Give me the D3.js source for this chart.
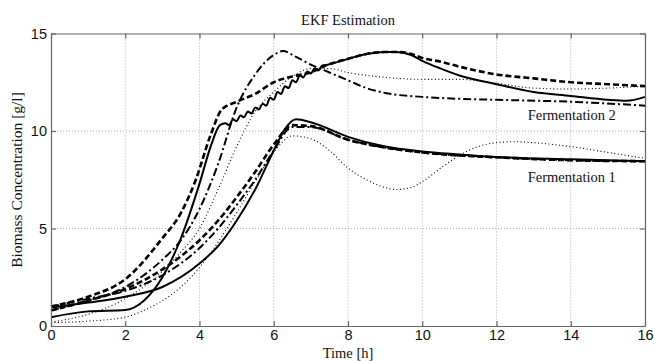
<!DOCTYPE html>
<html>
<head>
<meta charset="utf-8">
<script src="https://cdn.jsdelivr.net/npm/d3@7"></script>
<style>
  body { margin: 0; background: #fff; }
  svg { display: block; }
  .tick text { font-family: "Liberation Sans", Arial, sans-serif; font-size: 14.5px; fill: #111; }
  .lbl { font-family: "Liberation Serif", "DejaVu Serif", serif; font-size: 14.5px; fill: #111; }
</style>
</head>
<body>
<svg width="654" height="361"></svg>
<script>
// axis ticks
var xTicks = [0, 2, 4, 6, 8, 10, 12, 14, 16];
var yTicks = [0, 5, 10, 15];

// Fermentation 1 (lower group)
var f1Solid = [[0,0.95],[1,1.2],[2,1.5],[3,2.0],[4,3.2],[4.5,4.1],[5,5.4],[5.5,7.0],[6,9.0],[6.3,10.1],[6.6,10.6],[7,10.45],[8,9.7],[9,9.2],[10,8.95],[11,8.8],[12,8.67],[14,8.55],[16,8.45]];
var f1Dash = [[0,0.8],[1,1.3],[2,1.9],[3,2.9],[4,4.4],[4.5,5.4],[5,6.6],[5.5,7.9],[6,9.3],[6.5,10.3],[7,10.25],[8,9.55],[9,9.15],[10,8.9],[12,8.65],[14,8.5],[16,8.45]];
var f1DashDot = [[0,1.0],[1,1.4],[2,1.8],[3,2.6],[4,4.0],[4.5,5.0],[5,6.2],[5.5,7.5],[6,9.0],[6.5,10.2],[7,10.2],[8,9.55],[9,9.15],[10,8.9],[12,8.65],[14,8.5],[16,8.45]];
var f1Dot = [[0,0.17],[1,0.25],[2,0.45],[2.5,0.8],[3,1.3],[3.5,2.0],[4,3.0],[4.5,4.3],[5,5.8],[5.5,7.4],[6,8.9],[6.5,9.75],[7,9.6],[7.5,9.0],[8,8.1],[8.5,7.5],[9,7.1],[9.3,7.0],[9.7,7.1],[10,7.4],[10.5,8.1],[11,8.75],[11.5,9.2],[12,9.4],[12.5,9.45],[13,9.4],[14,9.2],[15,8.9],[16,8.6]];

// Fermentation 2 (upper group)
var f2Solid = [[0,0.45],[1,0.75],[2,0.82],[2.5,1.3],[3,2.5],[3.5,4.5],[4,7.3],[4.3,9.2],[4.55,10.3],[4.7,10.4],[4.8,10.3],[4.9,10.6],[5.0,10.5],[5.1,10.8],[5.2,10.7],[5.3,11.0],[5.4,10.9],[5.5,11.2],[5.6,11.1],[5.7,11.4],[5.8,11.3],[5.9,11.7],[6.0,11.6],[6.1,12.0],[6.2,11.9],[6.3,12.3],[6.4,12.2],[6.5,12.6],[6.6,12.5],[6.7,12.85],[6.8,12.75],[6.9,13.05],[7.0,12.95],[7.1,13.2],[7.2,13.1],[7.3,13.35],[7.45,13.4],[8,13.7],[8.5,13.95],[9,14.05],[9.3,14.05],[9.7,13.9],[10,13.6],[10.5,13.2],[11,12.85],[12,12.4],[13,12.0],[14,11.8],[15,11.6],[15.5,11.55],[16,11.75]];
var f2Dash = [[0,1.0],[1,1.5],[2,2.4],[3,4.5],[3.5,5.8],[3.9,7.5],[4.3,9.8],[4.6,11.1],[5,11.5],[5.5,11.9],[6,12.5],[6.5,12.8],[7,13.0],[7.45,13.4],[8,13.7],[8.5,13.95],[9,14.05],[9.3,14.05],[9.7,13.95],[10,13.75],[10.5,13.55],[11,13.3],[12,12.9],[13,12.7],[14,12.5],[15,12.4],[16,12.3]];
var f2DashDot = [[0,0.8],[1,1.3],[2,2.0],[3,3.4],[3.5,4.4],[4,6.0],[4.5,8.3],[5,11.2],[5.5,12.9],[6,13.9],[6.25,14.1],[6.6,13.8],[7,13.4],[7.5,13.0],[8,12.6],[8.5,12.2],[9,11.95],[10,11.75],[11,11.65],[12,11.6],[14,11.5],[16,11.3]];
var f2Dot = [[0,0.2],[1,0.6],[2,1.4],[3,2.8],[3.5,3.8],[4,5.0],[4.5,7.0],[5,9.2],[5.5,11.0],[6,12.0],[6.5,12.8],[7,13.2],[7.5,13.2],[8,13.0],[9,12.75],[10,12.65],[11,12.65],[12,12.45],[13,12.2],[14,12.15],[15,12.2],[16,12.3]];

var series = [
  {pts: f1Dot, style: "dot"}, {pts: f2Dot, style: "dot"},
  {pts: f1DashDot, style: "dashdot"}, {pts: f2DashDot, style: "dashdot"},
  {pts: f1Dash, style: "dash"}, {pts: f2Dash, style: "dash"},
  {pts: f1Solid, style: "solid"}, {pts: f2Solid, style: "solid"}
];
var styles = {
  solid: {w: 2, dash: null},
  dash: {w: 2.6, dash: "6,3"},
  dashdot: {w: 2, dash: "8,3,2,3"},
  dot: {w: 1.1, dash: "1,2.5"}
};

var svg = d3.select("svg"),
    margin = {top: 33.5, right: 10, bottom: 35, left: 51},
    width = 645 - margin.left,
    height = 326 - margin.top;

var x = d3.scaleLinear().domain([0, 16]).range([0, width]);
var y = d3.scaleLinear().domain([0, 15]).range([height, 0]);

var g = svg.append("g").attr("transform", "translate(" + margin.left + "," + margin.top + ")");

// grid
g.append("g").selectAll("line").data(xTicks.slice(1, -1)).enter().append("line")
  .attr("x1", d => x(d)).attr("x2", d => x(d)).attr("y1", 0).attr("y2", height)
  .attr("stroke", "#999").attr("stroke-width", 0.8).attr("stroke-dasharray", "1,2");
g.append("g").selectAll("line").data(yTicks.slice(1, -1)).enter().append("line")
  .attr("y1", d => y(d)).attr("y2", d => y(d)).attr("x1", 0).attr("x2", width)
  .attr("stroke", "#999").attr("stroke-width", 0.8).attr("stroke-dasharray", "1,2");

// lines
var line = d3.line().x(d => x(d[0])).y(d => y(d[1])).curve(d3.curveMonotoneX);
g.append("g").selectAll("path").data(series).enter().append("path")
  .attr("d", d => line(d.pts))
  .attr("fill", "none").attr("stroke", "#000")
  .attr("stroke-width", d => styles[d.style].w)
  .attr("stroke-dasharray", d => styles[d.style].dash)
  .attr("stroke-linejoin", "round");

// axes (ticks inside, mirrored on top/right)
g.append("g").attr("transform", "translate(0," + height + ")")
  .call(d3.axisBottom(x).tickValues(xTicks).tickSizeInner(-5).tickSizeOuter(0).tickPadding(4));
g.append("g")
  .call(d3.axisLeft(y).tickValues(yTicks).tickSizeInner(-5).tickSizeOuter(0).tickPadding(4));
g.append("g").call(d3.axisTop(x).tickValues(xTicks).tickSizeInner(-5).tickSizeOuter(0).tickFormat(""));
g.append("g").attr("transform", "translate(" + width + ",0)")
  .call(d3.axisRight(y).tickValues(yTicks).tickSizeInner(-5).tickSizeOuter(0).tickFormat(""));
g.selectAll(".domain, .tick line").attr("stroke", "#666").attr("stroke-width", 1.2);

// texts
svg.append("text").attr("class", "lbl").attr("x", 348).attr("y", 25).attr("text-anchor", "middle").text("EKF Estimation");
svg.append("text").attr("class", "lbl").attr("x", 348).attr("y", 358).attr("text-anchor", "middle").text("Time [h]");
svg.append("text").attr("class", "lbl").attr("transform", "translate(22,180) rotate(-90)").attr("text-anchor", "middle")
  .style("font-size", "15.5px").text("Biomass Concentration [g/l]");
g.append("text").attr("class", "lbl").attr("x", x(12.84)).attr("y", y(10.55)).text("Fermentation 2");
g.append("text").attr("class", "lbl").attr("x", x(12.84)).attr("y", y(7.4)).text("Fermentation 1");
</script>
</body>
</html>
